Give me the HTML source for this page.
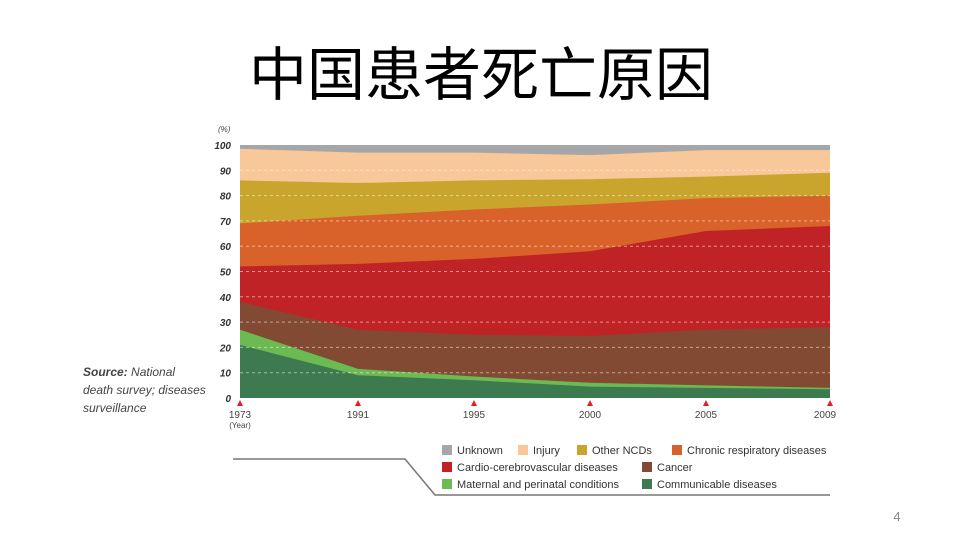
<!DOCTYPE html><html><head><meta charset="utf-8"><style>body{margin:0;width:960px;height:540px;background:#fff;overflow:hidden}</style></head><body>
<svg width="960" height="540" xmlns="http://www.w3.org/2000/svg" font-family="Liberation Sans, sans-serif">
<text x="481" y="95" text-anchor="middle" font-size="58" font-family="Liberation Sans, Noto Sans CJK SC, sans-serif" fill="#000">中国患者死亡原因</text>
<polygon points="240,145 830,145 830,398 240,398" fill="#a4a6a8"/>
<polygon points="240,148.8 358,152.6 474,152.6 590,155.1 706,150.1 830,150.1 830,398 240,398" fill="#f8c79a"/>
<polygon points="240,180.4 358,183 474,180.4 590,179.2 706,176.6 830,172.8 830,398 240,398" fill="#c9a52e"/>
<polygon points="240,223.4 358,215.8 474,209.5 590,204.5 706,198.1 830,195.6 830,398 240,398" fill="#d9622b"/>
<polygon points="240,266.4 358,263.9 474,258.9 590,251.3 706,231 830,226 830,398 240,398" fill="#c02326"/>
<polygon points="240,301.9 358,329.7 474,334.8 590,336 706,329.7 830,327.2 830,398 240,398" fill="#834a33"/>
<polygon points="240,329.7 358,368.9 474,376.5 590,382.8 706,385.4 830,387.9 830,398 240,398" fill="#6cba52"/>
<polygon points="240,344.9 358,375.2 474,380.3 590,386.6 706,387.9 830,389.2 830,398 240,398" fill="#3e7a4f"/>
<g stroke="#fff" stroke-opacity="0.5" stroke-dasharray="3,3">
<line x1="240" x2="830" y1="372.7" y2="372.7"/><line x1="240" x2="830" y1="347.4" y2="347.4"/><line x1="240" x2="830" y1="322.1" y2="322.1"/><line x1="240" x2="830" y1="296.8" y2="296.8"/><line x1="240" x2="830" y1="271.5" y2="271.5"/><line x1="240" x2="830" y1="246.2" y2="246.2"/><line x1="240" x2="830" y1="220.9" y2="220.9"/><line x1="240" x2="830" y1="195.6" y2="195.6"/><line x1="240" x2="830" y1="170.3" y2="170.3"/>
</g>
<g font-size="10" font-weight="bold" font-style="italic" fill="#333" text-anchor="end">
<text x="231" y="402">0</text><text x="231" y="376.7">10</text><text x="231" y="351.4">20</text><text x="231" y="326.1">30</text><text x="231" y="300.8">40</text><text x="231" y="275.5">50</text><text x="231" y="250.2">60</text><text x="231" y="224.9">70</text><text x="231" y="199.6">80</text><text x="231" y="174.3">90</text><text x="231" y="149">100</text>
</g>
<g fill="#e02020">
<polygon points="237,406 243,406 240,400"/><polygon points="355,406 361,406 358,400"/><polygon points="471,406 477,406 474,400"/><polygon points="587,406 593,406 590,400"/><polygon points="703,406 709,406 706,400"/><polygon points="827,406 833,406 830,400"/>
</g>
<g font-size="10" fill="#444" text-anchor="middle">
<text x="240" y="418">1973</text><text x="358" y="418">1991</text><text x="474" y="418">1995</text><text x="590" y="418">2000</text><text x="706" y="418">2005</text><text x="825" y="418">2009</text>
</g>
<text x="218" y="132" font-size="8" font-style="italic" fill="#444">(%)</text>
<text x="240" y="428" text-anchor="middle" font-size="8" fill="#444">(Year)</text>
<text x="83" y="376" font-size="12" fill="#444" font-style="italic"><tspan font-weight="bold">Source:</tspan> National</text>
<text x="83" y="394" font-size="12" fill="#444" font-style="italic">death survey; diseases</text>
<text x="83" y="412" font-size="12" fill="#444" font-style="italic">surveillance</text>
<polyline points="233,459 405,459 435,495 830,495" fill="none" stroke="#777" stroke-width="1.5"/>
<g font-size="11" fill="#333">
<rect x="442" y="445" width="10" height="10" fill="#a4a6a8"/><text x="457" y="454">Unknown</text>
<rect x="518" y="445" width="10" height="10" fill="#f8c79a"/><text x="533" y="454">Injury</text>
<rect x="577" y="445" width="10" height="10" fill="#c9a52e"/><text x="592" y="454">Other NCDs</text>
<rect x="672" y="445" width="10" height="10" fill="#d9622b"/><text x="687" y="454">Chronic respiratory diseases</text>
<rect x="442" y="462" width="10" height="10" fill="#c02326"/><text x="457" y="471">Cardio-cerebrovascular diseases</text>
<rect x="642" y="462" width="10" height="10" fill="#834a33"/><text x="657" y="471">Cancer</text>
<rect x="442" y="479" width="10" height="10" fill="#6cba52"/><text x="457" y="488">Maternal and perinatal conditions</text>
<rect x="642" y="479" width="10" height="10" fill="#3e7a4f"/><text x="657" y="488">Communicable diseases</text>
</g>
<text x="897" y="521" font-size="13" fill="#888" text-anchor="middle">4</text>
</svg></body></html>
